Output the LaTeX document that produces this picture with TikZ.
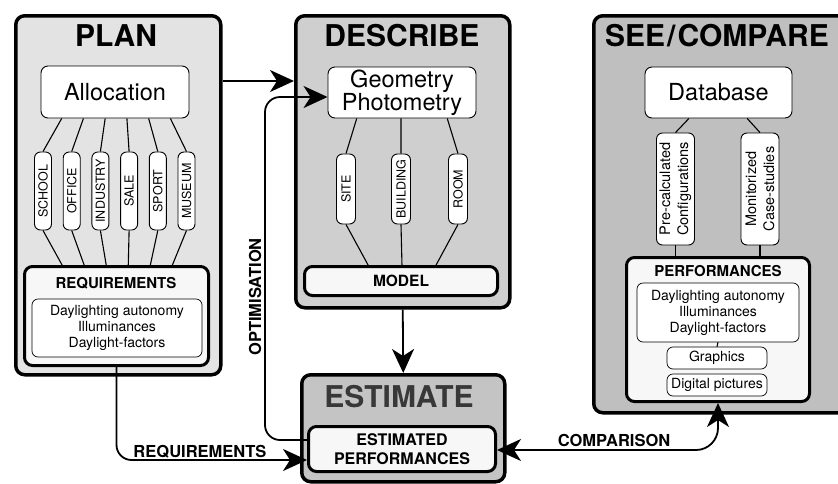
\documentclass[tikz,border=0pt]{standalone}
\usepackage{fontspec}
\setmainfont{TeX Gyre Heros}
\usetikzlibrary{arrows.meta,calc,positioning}
\tikzset{
  bigtip/.tip={Stealth[length=24pt,width=22pt,inset=7pt]},
  stage/.style={draw,line width=3.5pt,rounded corners=9pt,anchor=north west,inner sep=0pt},
  heading/.style={font=\fontsize{30}{30}\selectfont\bfseries},
  toolbox/.style={draw,fill=white,line width=0.9pt,rounded corners=7pt,align=center,inner sep=0pt,font=\fontsize{23.5}{20.5}\selectfont},
  pill/.style={draw,fill=white,line width=0.9pt,rounded corners=6pt,rotate=90,inner sep=1pt,font=\fontsize{12.5}{13}\selectfont},
  outbox/.style={draw,fill=black!3,line width=3pt,rounded corners=8pt,inner sep=0pt},
  listbox/.style={draw,fill=white,line width=0.7pt,rounded corners=6pt,align=center,inner sep=0pt,font=\fontsize{14}{16}\selectfont},
  subhead/.style={font=\fontsize{15}{15}\selectfont\bfseries},
  tag/.style={font=\fontsize{16.5}{17}\selectfont\bfseries},
  fan/.style={line width=1.1pt},
  flow/.style={line width=1.8pt,-bigtip},
}
\begin{document}
\begin{tikzpicture}[x=1pt,y=-1pt]
  \useasboundingbox (0,0) rectangle (838,483);
  \clip (0,0) rectangle (838,483);
  % the four stages
  \node[stage,fill=black!11,minimum width=205pt,minimum height=359pt] (plan) at (14,14) {};
  \node[stage,fill=black!19,minimum width=214pt,minimum height=292pt] (describe) at (294,14) {};
  \node[stage,fill=black!23,minimum width=203pt,minimum height=107pt] (estimate) at (300,373) {};
  \node[stage,fill=black!25,minimum width=270pt,minimum height=397pt] (compare) at (592,14) {};
  \node[heading] (plantitle) at (116,36) {PLAN};
  \node[heading] (desctitle) at (402,36) {DESCRIBE};
  \node[heading,text=black!78] (esttitle) at (399,397) {ESTIMATE};
  \node[heading] (cmptitle) at (717,36) {SEE\kern2pt/\kern2pt COMPARE};

  % plan
  \node[toolbox,minimum width=148pt,minimum height=52pt] (alloc) at (115,92) {Allocation};
  \foreach \lab [count=\i] in {SCHOOL,OFFICE,INDUSTRY,SALE,SPORT,MUSEUM}
    \node[pill,minimum width=78pt,minimum height=17pt] (u\i) at ({43+28.7*(\i-1)},191) {\lab};
  \node[outbox,minimum width=184pt,minimum height=99pt] (reqs) at (116.5,316) {};
  \node[subhead] (reqtitle) at (116,283) {REQUIREMENTS};
  \node[listbox,minimum width=170pt,minimum height=58pt] (reqlist) at (117,328) {Daylighting autonomy\\Illuminances\\Daylight-factors};
  \foreach \i in {1,...,6} {
    \draw[fan] ($(alloc.south west)!{0.142+0.146*(\i-1)}!(alloc.south east)$) -- (u\i.east);
    \draw[fan] (u\i.west) -- ($(reqs.north west)!{0.209+0.118*(\i-1)}!(reqs.north east)$);
  }

  % describe
  \node[toolbox,minimum width=148pt,minimum height=51pt] (geom) at (402,92.5) {Geometry\\Photometry};
  \foreach \lab/\x [count=\i] in {SITE/346,BUILDING/401,ROOM/458}
    \node[pill,minimum width=70pt,minimum height=19pt] (d\i) at (\x,189) {\lab};
  \node[outbox,minimum width=193pt,minimum height=29pt,font=\fontsize{15.5}{16}\selectfont\bfseries] (model) at (401,281) {MODEL};
  \foreach \a/\b [count=\i] in {0.196/0.332,0.493/0.505,0.804/0.679} {
    \draw[fan] ($(geom.south west)!\a!(geom.south east)$) -- (d\i.east);
    \draw[fan] (d\i.west) -- ($(model.north west)!\b!(model.north east)$);
  }

  % estimate
  \node[outbox,minimum width=187pt,minimum height=45pt,align=center,font=\fontsize{16}{19}\selectfont\bfseries] (estperf) at (402,449) {ESTIMATED\\PERFORMANCES};

  % see / compare
  \node[toolbox,minimum width=147pt,minimum height=51pt] (data) at (718.5,92.5) {Database};
  \node[pill,minimum width=112pt,minimum height=38pt,align=center,font=\fontsize{14.5}{18}\selectfont] (s1) at (675.5,189) {Pre-calculated\\Configurations};
  \node[pill,minimum width=112pt,minimum height=38pt,align=center,font=\fontsize{14.5}{18}\selectfont] (s2) at (760,189) {Monitorized\\Case-studies};
  \node[outbox,minimum width=183pt,minimum height=144pt] (perf) at (718,329.5) {};
  \node[subhead] (perftitle) at (718,271) {PERFORMANCES};
  \node[listbox,minimum width=162pt,minimum height=59pt] (perflist) at (718,312.5) {Daylighting autonomy\\Illuminances\\Daylight-factors};
  \node[listbox,minimum width=100pt,minimum height=22pt] (graphics) at (717,358) {Graphics};
  \node[listbox,minimum width=100pt,minimum height=22pt] (pictures) at (717,385) {Digital pictures};
  \draw[fan] ($(data.south west)!0.30!(data.south east)$) -- (s1.east);
  \draw[fan] ($(data.south west)!0.694!(data.south east)$) -- (s2.east);
  \draw[fan] (s1.west) -- (s1.west |- perf.north);
  \draw[fan] (s2.west) -- (s2.west |- perf.north);
  \draw[fan] (perflist.south) -- (graphics.north);

  % links between stages
  \draw[flow] ([yshift=-67pt]plan.north east) -- ([yshift=-67pt]describe.north west);
  \draw[flow] (describe.south) -- (estimate.north);
  \draw[flow,rounded corners=15pt] ([yshift=9pt]estperf.west) -- ++(-42,0) |- ([yshift=-4.5pt]geom.west);
  \draw[flow,rounded corners=15pt] (reqs.south) |- ([yshift=-11pt]estperf.west);
  \draw[line width=1.8pt,bigtip-bigtip,rounded corners=22pt] ([yshift=-1pt]estperf.east) -| (perf.south);
  \node[tag,rotate=90] (opttag) at (255,297) {OPTIMISATION};
  \node[tag] (reqtag) at (200,452) {REQUIREMENTS};
  \node[tag] (cmptag) at (614,440) {COMPARISON};
\end{tikzpicture}
\end{document}
